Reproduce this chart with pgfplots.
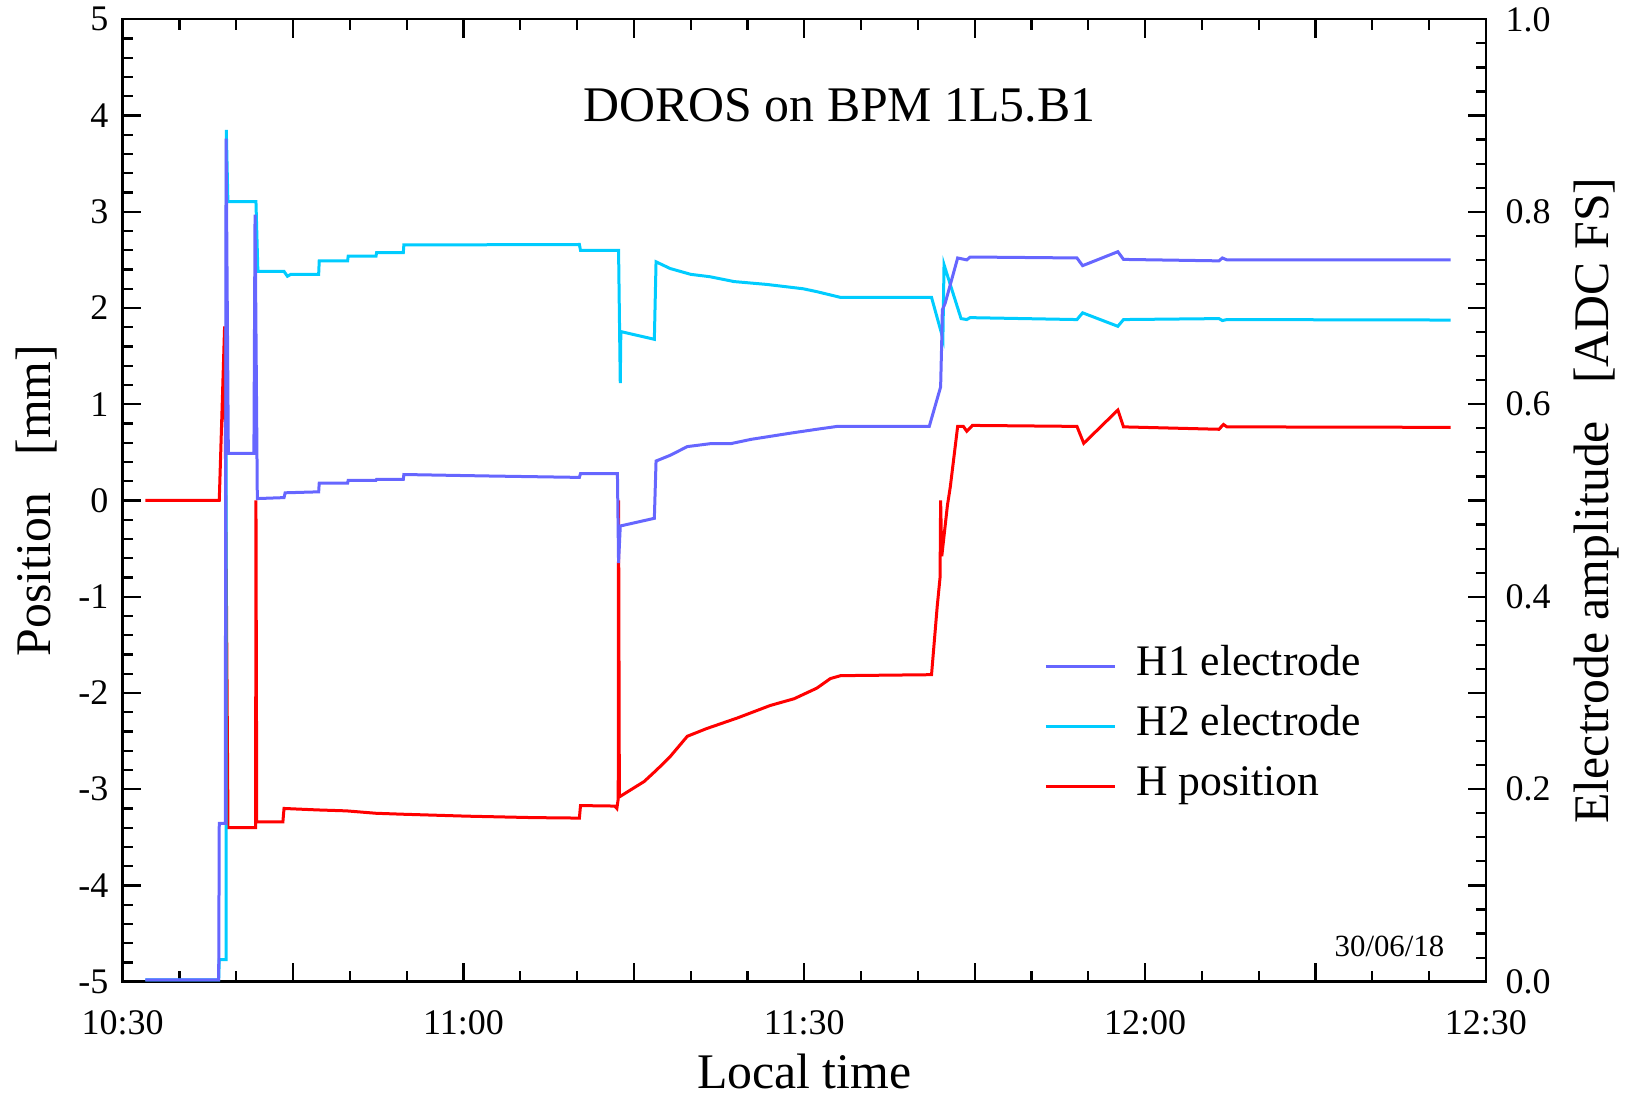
\documentclass[border=0pt]{standalone}
\usepackage{fontspec}
\setmainfont{Liberation Serif}
\usepackage{pgfplots}
\pgfplotsset{compat=1.18}
\definecolor{hone}{RGB}{102,102,255}
\definecolor{htwo}{RGB}{0,204,255}
\definecolor{hpos}{RGB}{255,0,0}
\begin{document}
\begin{tikzpicture}
\path[use as bounding box] (0,0) rectangle (407bp,274bp);
\pgfplotsset{
  common/.style={
    at={(30.675bp,28.575bp)}, anchor=south west,
    scale only axis, width=340.8bp, height=240.6bp,
    xmin=0, xmax=120,
    tick align=inside,
    major tick length=4.6bp, minor tick length=2.6bp,
    axis line style={line width=0.6bp},
    tick style={black, line width=0.55bp},
    tick label style={font=\fontsize{9bp}{10bp}\selectfont},
    label style={font=\fontsize{12.45bp}{14bp}\selectfont},
  }
}
\begin{axis}[common, ymin=-5, ymax=5,
  xtick={0,15,...,120}, xticklabels={10:30,,11:00,,11:30,,12:00,,12:30},
  minor x tick num=2,
  ytick={-5,-4,...,5}, yticklabels={-5,-4,-3,-2,-1,0,1,2,3,4,5},
  minor y tick num=4,
  ytick pos=left, xtick pos=both,
  xticklabel style={anchor=north, inner sep=0pt, yshift=-7bp},
  yticklabel style={anchor=east, inner sep=0pt, xshift=-3.4bp},
  xlabel={Local time},
  xlabel style={at={(axis description cs:0.5,0)}, anchor=north, inner sep=0pt, yshift=-17.8bp},
  ylabel={Position\hspace{0.75em}[mm]},
  ylabel style={at={(axis description cs:-0.0787,0.5)}, anchor=north, inner sep=0pt},
]
\addplot[hpos, line width=0.75bp] coordinates {
(2.0,0) (8.5,0) (8.97,1.81) (9.27,-3.40) (11.70,-3.40) (11.73,0.0) (11.80,-3.34)
(14.1,-3.34) (14.2,-3.20) (17.1,-3.215) (19.7,-3.225) (22.3,-3.25) (24.7,-3.26)
(30.3,-3.28) (36.1,-3.295) (40.2,-3.30) (40.3,-3.17) (43.3,-3.175) (43.5,-3.20)
(43.62,-3.10) (43.65,0.0) (43.72,-3.08) (44.4,-3.03) (45.9,-2.92) (47.0,-2.80)
(48.2,-2.66) (49.7,-2.45) (51.4,-2.37) (54.1,-2.26) (57.0,-2.13) (59.1,-2.06)
(61.1,-1.95) (62.3,-1.85) (63.2,-1.82) (71.2,-1.81) (71.7,-1.10) (71.95,-0.80)
(72.0,0.0) (72.1,-0.58) (72.6,-0.05) (72.85,0.14) (73.5,0.77) (74.0,0.77)
(74.3,0.72) (74.8,0.78) (84.0,0.77) (84.6,0.594) (87.6,0.94) (88.1,0.765)
(96.5,0.74) (96.9,0.79) (97.2,0.765) (116.9,0.76)
};
\node[anchor=base, font=\fontsize{12.45bp}{14bp}\selectfont] at (axis cs:63.1,3.94) {DOROS on BPM 1L5.B1};
\node[anchor=base east, inner sep=0pt, font=\fontsize{7.7bp}{9bp}\selectfont] at (axis cs:116.4,-4.74) {30/06/18};
\end{axis}
\begin{axis}[common, ymin=0, ymax=1,
  xtick=\empty,
  ytick={0,0.1,0.2,0.3,0.4,0.5,0.6,0.7,0.8,0.9,1},
  yticklabels={0.0,,0.2,,0.4,,0.6,,0.8,,1.0},
  minor y tick num=3,
  ytick pos=right, yticklabel pos=right,
  yticklabel style={anchor=west, inner sep=0pt, xshift=4.7bp},
  ylabel={Electrode amplitude\hspace{0.75em}[ADC FS]},
  ylabel style={at={(axis description cs:1.064,0.5)}, anchor=north, inner sep=0pt},
  legend style={at={(0.6755,0.348)}, anchor=north west, draw=none, fill=none,
    inner sep=0pt, font=\fontsize{10.9bp}{12bp}\selectfont, row sep=5.5bp,
    column sep=5.0bp, nodes={inner sep=0pt, text height=0.7em, text depth=0.25em}},
  legend cell align=left,
  legend image code/.code={\draw[#1] (0bp,0bp) -- (17.3bp,0bp);},
]
\addlegendimage{hone, line width=0.75bp}
\addlegendentry{H1 electrode}
\addlegendimage{htwo, line width=0.75bp}
\addlegendentry{H2 electrode}
\addlegendimage{hpos, line width=0.75bp}
\addlegendentry{H position}
\addplot[htwo, line width=0.75bp, forget plot] coordinates {
(2.0,0.002) (8.45,0.002) (8.5,0.023) (9.1,0.023) (9.12,0.885) (9.26,0.8105)
(11.73,0.8105) (11.9,0.738) (14.2,0.738) (14.5,0.733) (14.8,0.735) (17.25,0.735)
(17.3,0.749) (19.8,0.749) (19.85,0.754) (22.3,0.754) (22.35,0.7575) (24.7,0.7575)
(24.75,0.7655) (40.2,0.766) (40.3,0.760) (43.65,0.760) (43.8,0.622) (43.85,0.6755)
(46.8,0.6675) (46.95,0.748) (48.2,0.741) (50.0,0.735) (51.7,0.7325) (53.8,0.7275)
(56.7,0.7245) (59.9,0.720) (61.1,0.717) (63.2,0.711) (71.2,0.711) (72.2,0.6685)
(72.3,0.745) (73.1,0.715) (73.8,0.689) (74.3,0.688) (74.6,0.690) (84.0,0.688)
(84.5,0.695) (87.6,0.681) (88.1,0.688) (96.5,0.689) (96.8,0.687) (97.2,0.688)
(116.9,0.6875)
};
\addplot[hone, line width=0.75bp, forget plot] coordinates {
(2.0,0.002) (8.45,0.002) (8.5,0.1645) (9.03,0.1645) (9.1,0.876) (9.3,0.549)
(11.55,0.549) (11.65,0.797) (11.85,0.502) (14.2,0.503) (14.3,0.508) (17.25,0.509)
(17.3,0.518) (19.8,0.518) (19.85,0.521) (22.3,0.521) (22.35,0.522) (24.7,0.522)
(24.75,0.527) (32,0.5255) (40.2,0.524) (40.3,0.528) (43.55,0.528) (43.65,0.435)
(43.8,0.4735) (46.8,0.4815) (46.95,0.541) (48.2,0.547) (49.7,0.556) (51.7,0.559)
(53.5,0.559) (55.3,0.5635) (58.8,0.570) (61.1,0.574) (62.9,0.577) (71.0,0.577)
(72.0,0.618) (72.1,0.667) (72.15,0.698) (72.4,0.705) (73.5,0.752) (74.3,0.750)
(74.6,0.753) (84.0,0.752) (84.5,0.744) (87.6,0.7585) (88.1,0.7505) (96.5,0.749)
(96.8,0.752) (97.2,0.750) (116.9,0.750)
};
\end{axis}
\end{tikzpicture}
\end{document}
